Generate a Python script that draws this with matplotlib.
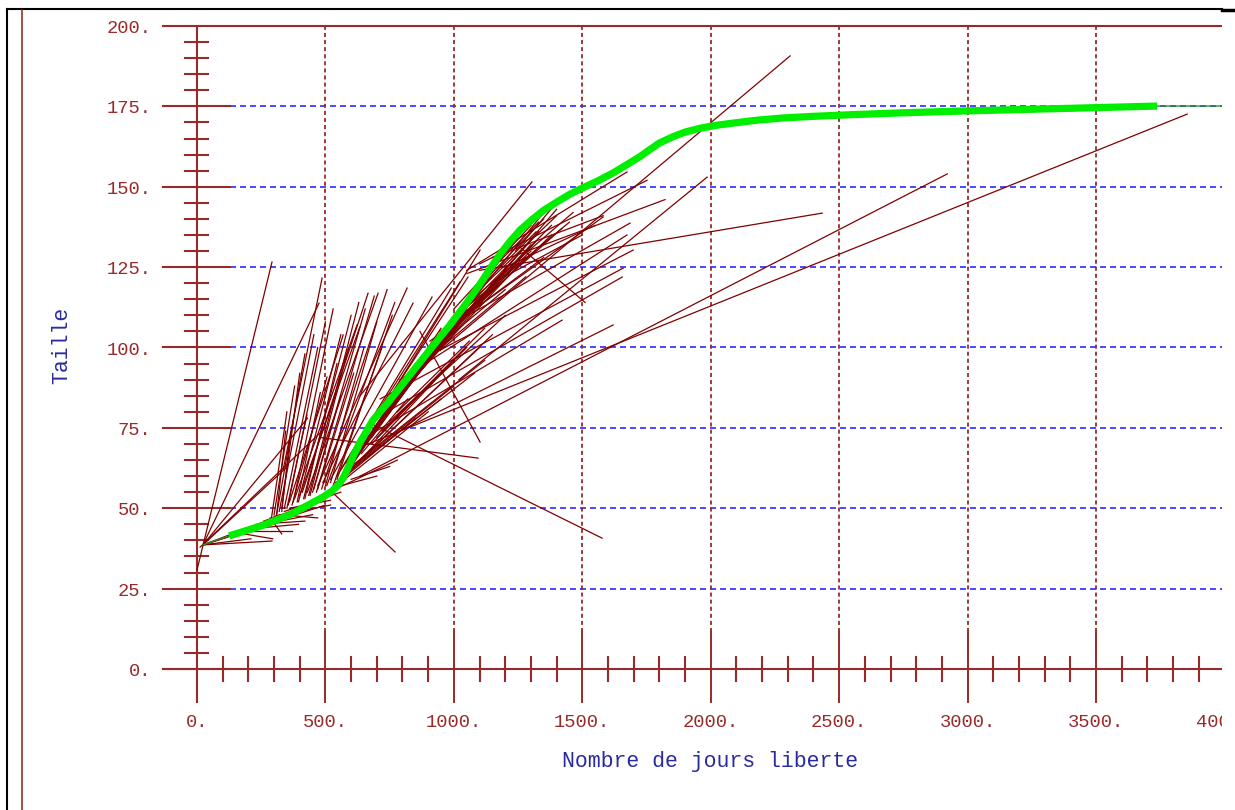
import matplotlib
matplotlib.use('Agg')
import matplotlib.pyplot as plt
from matplotlib.lines import Line2D

plt.rcParams['lines.scale_dashes'] = False
plt.rcParams['font.family'] = ['Liberation Mono', 'DejaVu Sans Mono']

# ---------------- data ----------------
# growth increments: (days at liberty start, size start) -> (days end, size end)
seg_x0 = [0, 23, 23, 23, 23, 23, 335, 23, 23, 12,
          140, 165, 205, 230, 260, 285, 300, 320, 340, 360, 260,
          360, 380, 400, 410, 430, 470, 490, 520, 545, 560, 580, 600,
          350, 330, 370, 390, 420, 440, 455, 470, 500, 520, 530, 545,
          560, 580, 600, 620, 640, 660, 680, 700, 720, 740, 760, 790,
          820, 850, 870, 900, 930, 600, 620, 650, 560, 580, 540, 560, 600,
          1020, 1051, 946, 907, 790, 868, 713, 674, 790, 635, 1100, 946,
          635, 1050, 1100, 1000, 1150, 635, 635,
          674, 530, 868, 479, 1246,
          1000, 1050, 1100, 980, 1150, 1200, 900, 950, 1240, 1180, 23,
          300, 310, 320, 340, 355, 375, 395, 415, 435, 450, 465, 485, 505, 330, 290, 310,
          650, 680, 700, 730, 760, 800, 830, 860, 880, 920, 960, 990, 1020, 1080,
          700, 750, 720, 680, 780, 640, 560, 580, 600, 540]
seg_y0 = [30.8, 38.6, 38.6, 38.6, 38.6, 38.6, 61.9, 38.6, 38.6, 37.9,
          42.6, 43.0, 44.2, 45.0, 46.0, 47.0, 47.5, 48.0, 49.0, 50.0, 44.0,
          52, 53, 54, 55, 55, 57, 58, 59, 60, 62, 64, 65,
          50, 49, 51, 52, 53, 54, 56, 56, 57, 58, 57, 59,
          58, 62, 63, 66, 68, 70, 72, 76, 78, 80, 84, 86,
          90, 94, 96, 100, 103, 62, 64, 66, 58, 60, 56, 57, 59,
          90, 123, 105, 102, 90, 96, 84, 77, 74, 71, 124, 99,
          85, 124, 126, 110, 128, 60, 69,
          76.5, 54.7, 105, 72, 132,
          112, 115, 118, 108, 120, 125, 98, 100, 130, 127, 38.6,
          48, 48, 49, 50, 51, 52, 52, 53, 54, 55, 55, 56, 57, 50, 47, 48,
          70, 73, 75, 79, 82, 86, 89, 92, 95, 99, 104, 107, 110, 117,
          72, 77, 74, 70, 80, 67, 60, 61, 63, 58]
seg_x1 = [292, 475, 350, 292, 210, 400, 487, 120, 500, 500,
          295, 370, 450, 420, 500, 330, 520, 470, 560, 520, 395,
          569, 623, 634, 666, 705, 818, 841, 915, 990, 1024, 1055, 1102,
          428, 362, 506, 480, 545, 590, 560, 610, 650, 700, 720, 760,
          850, 900, 950, 1000, 1050, 1100, 1150, 1200, 1250, 1300, 1350, 1400,
          1300, 1250, 1380, 1420, 1350, 1000, 1100, 1150, 900, 850, 780, 700, 750,
          1986, 1822, 1686, 1581, 1674, 1698, 1659, 1655, 1620, 1421, 2434, 2309,
          1304, 1674, 1752, 1464, 1581, 2921, 3855,
          1577, 771, 1102, 1094, 1511,
          1300, 1350, 1400, 1450, 1500, 1550, 1200, 1280, 1410, 1330, 430,
          380, 420, 455, 470, 500, 530, 560, 600, 630, 655, 690, 740, 770, 400, 350, 345,
          950, 1000, 980, 1100, 1150, 1200, 1150, 1280, 1320, 1330, 1380, 1300, 1240, 1320,
          1050, 1200, 1120, 900, 1060, 820, 1000, 1080, 1120, 950]
seg_y1 = [126.6, 113.8, 62.8, 39.8, 40.5, 50.0, 121.6, 41.0, 51.0, 75.0,
          40.5, 43.0, 48.0, 46.0, 53.0, 42.0, 51.0, 47.0, 55.0, 52.5, 45.0,
          103.9, 107, 106.4, 116.9, 116.9, 118.5, 113.8, 115.7, 118.5, 120.4, 121.9, 130.3,
          79, 72, 90.8, 86, 95, 100, 85, 92, 100, 108, 100, 110,
          95, 100, 104, 108, 112, 118, 124, 130, 135, 140, 142, 143,
          132, 126, 135, 137, 128, 96, 100, 104, 80, 78, 65, 60, 63,
          153, 146, 138.7, 140.6, 135, 130.3, 124.7, 121.9, 107, 108.5, 141.8, 190.7,
          151.5, 154.6, 152, 142, 141, 154, 172.6,
          40.7, 36.4, 70.6, 65.6, 114,
          138, 140, 141, 139, 135, 138, 118, 122, 146, 139, 78,
          88, 98, 104, 100, 108, 112, 104, 110, 114, 112, 116, 118, 114, 92, 80, 74,
          106, 110, 104, 116, 120, 124, 118, 128, 133, 136, 138, 130, 128, 136,
          100, 110, 106, 88, 102, 84, 88, 92, 96, 84]

# fitted growth curve
curve_x = [125, 250, 362, 440, 491, 525, 550, 570, 590, 610, 635, 685, 740,
           790, 849, 919, 985, 1051, 1100, 1141, 1180, 1219, 1260, 1308, 1350,
           1402, 1450, 1500, 1560, 1620, 1680, 1725, 1760, 1800, 1854, 1900,
           1959, 2020, 2087, 2180, 2282, 2400, 2543, 2750, 3000, 3400, 3738]
curve_y = [41.4, 44.5, 48.0, 51.3, 53.5, 55.3, 57.2, 59.5, 63.0, 66.5, 70.5,
           77.4, 82.5, 87.5, 93.5, 100.5, 107.0, 114.0, 119.5, 124.5, 129.0,
           133.0, 136.7, 140.0, 142.7, 145.3, 147.6, 149.6, 151.8, 154.3, 157.2,
           159.4, 161.4, 163.6, 165.6, 167.0, 168.2, 169.1, 169.8, 170.7, 171.4,
           171.9, 172.4, 173.0, 173.6, 174.4, 175.1]
curve_start = (23, 38.6)
curve_end_y = 175.1

x_ticks = [0, 500, 1000, 1500, 2000, 2500, 3000, 3500, 4000]
x_tick_labels = ['0.', '500.', '1000.', '1500.', '2000.', '2500.', '3000.', '3500.', '4000.']
y_ticks = [0, 25, 50, 75, 100, 125, 150, 175, 200]
y_tick_labels = ['0.', '25.', '50.', '75.', '100.', '125.', '150.', '175.', '200.']

# ---------------- layout ----------------
W, H = 1235, 810
fig = plt.figure(figsize=(W / 100, H / 100), dpi=100)
fig.patch.set_facecolor('white')
ax = fig.add_axes([0, 0, 1222 / W, 1])
PX_X = 3.893   # data units per pixel (x)
PX_Y = 0.31104  # data units per pixel (y)
xmin, xmax = -197 * PX_X, (1222 - 197) * PX_X
ymin, ymax = (669 - 810) * PX_Y, 669 * PX_Y
ax.set_xlim(xmin, xmax)
ax.set_ylim(ymin, ymax)
ax.axis('off')

axis_col = '#982a2a'
seg_col = '#800000'
blue = '#3a3aff'
label_col = '#2a2aa0'

left_edge = (163 - 197) * PX_X
bottom_edge = (669 - 702) * PX_Y
vgrid_bottom = (669 - 632) * PX_Y

# horizontal blue dashed grid
for v in y_ticks[1:-1]:
    ax.plot([128, xmax], [v, v], color=blue, lw=1.3, dashes=(4.3, 2.9), zorder=1)
# vertical maroon dashed grid
for v in x_ticks[1:-1]:
    ax.plot([v, v], [vgrid_bottom, 200], color=axis_col, lw=1.3, dashes=(2.9, 2.2), zorder=1)
    ax.plot([v, v], [bottom_edge, vgrid_bottom], color=axis_col, lw=1.4, zorder=2)
ax.plot([4000, 4000], [bottom_edge, vgrid_bottom], color=axis_col, lw=1.4, zorder=2)

# axes lines
ax.plot([left_edge, xmax], [0, 0], color=axis_col, lw=1.5, zorder=2)
ax.plot([left_edge, xmax], [200, 200], color=axis_col, lw=1.5, zorder=2)
ax.plot([0, 0], [bottom_edge, 200], color=axis_col, lw=1.5, zorder=2)
# y major / minor ticks
for v in y_ticks[:-1]:
    ax.plot([left_edge, 128], [v, v], color=axis_col, lw=1.5, zorder=2)
for v in range(5, 200, 5):
    if v % 25:
        ax.plot([-47, 43], [v, v], color=axis_col, lw=1.5, zorder=2)
# x minor ticks
for v in range(100, 4000, 100):
    if v % 500:
        ax.plot([v, v], [-3.6, 3.6], color=axis_col, lw=1.5, zorder=2)

# segments
for a, b, c, d in zip(seg_x0, seg_y0, seg_x1, seg_y1):
    ax.plot([a, c], [b, d], color=seg_col, lw=0.9, zorder=3)

# curve: thin full line + thick fitted part
thin_x = [curve_start[0]] + curve_x + [xmax]
thin_y = [curve_start[1]] + curve_y + [curve_end_y]
ax.plot(thin_x, thin_y, color='#2e8b2e', lw=1.0, zorder=4)
ax.plot(curve_x, curve_y, color='#00ee00', lw=5.2, zorder=5,
        solid_capstyle='butt', solid_joinstyle='round')

# tick labels
for v, s in zip(x_ticks, x_tick_labels):
    t = ax.text(v, -18.0, s, color=axis_col, fontsize=13.5, ha='center', va='baseline')
    t.set_clip_box(ax.bbox)
    t.set_clip_on(True)
for v, s in zip(y_ticks, y_tick_labels):
    ax.text(-177, v - 2.2, s, color=axis_col, fontsize=13.5, ha='right', va='baseline')

ax.text((710 - 197) * PX_X, -30.5, 'Nombre de jours liberte', color=label_col,
        fontsize=15.5, ha='center', va='baseline')
ax.text((62 - 197) * PX_X, (669 - 345) * PX_Y, 'Taille', color=label_col,
        fontsize=15.5, ha='center', va='center', rotation=90)

# outer frame
def fl(x0, y0, x1, y1, **kw):
    fig.add_artist(Line2D([x0 / W, x1 / W], [1 - y0 / H, 1 - y1 / H],
                          transform=fig.transFigure, **kw))

fl(7, 9, 1222, 9, color='black', lw=1.5)
fl(7, 9, 7, 810, color='black', lw=1.5)
fl(1222, 10, 1235, 10, color='black', lw=2.5)
fl(21.5, 10, 21.5, 810, color=axis_col, lw=1.2)

fig.savefig('out.png', dpi=100, facecolor='white')
